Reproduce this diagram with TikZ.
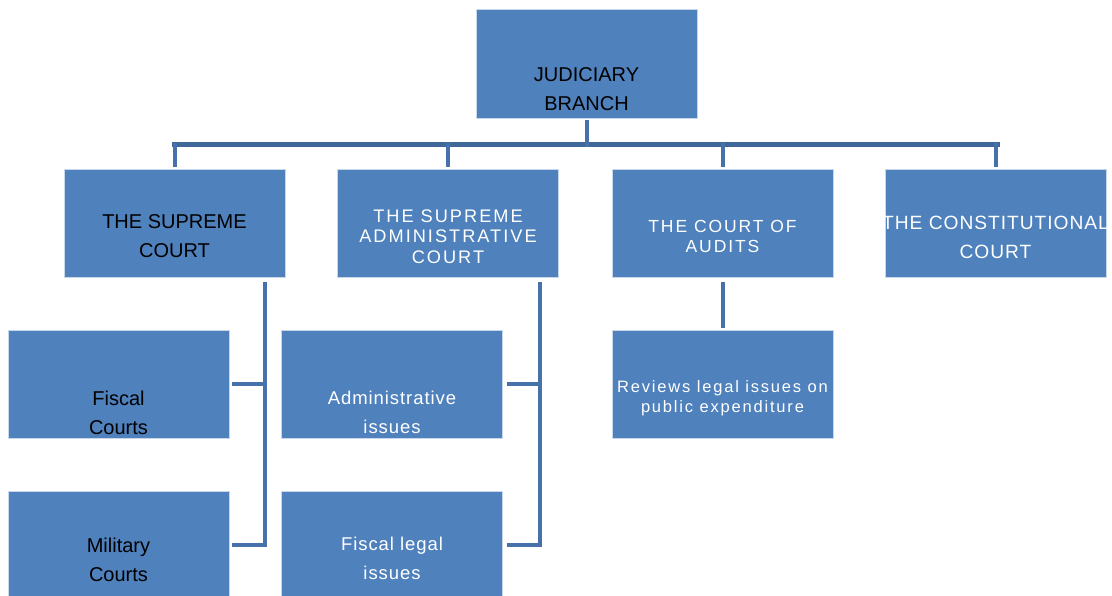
\documentclass[tikz,border=0pt]{standalone}
\usepackage{fontspec}
\setmainfont{Liberation Sans}
\newfontfamily\jbWide[LetterSpace=5]{Liberation Sans}
\newfontfamily\jbWider[LetterSpace=11]{Liberation Sans}
\definecolor{jbFill}{HTML}{4F81BD}
\definecolor{jbEdge}{HTML}{C9D7EA}
\definecolor{jbBus}{HTML}{3F6797}
\definecolor{jbLink}{HTML}{4771AA}
\tikzset{jbBox/.style={draw=jbEdge,line width=0.8pt,fill=jbFill,rectangle,
   minimum width=221pt,minimum height=108pt,inner sep=0pt},
 jbDark/.style={font=\fontsize{20}{29}\selectfont,text=black,align=center,inner sep=0pt},
 jbLight/.style={font=\jbWide\fontsize{18.5}{29}\selectfont,text=white,align=center,inner sep=0pt},
 jbSmall/.style={font=\jbWider\fontsize{#1}{20.5}\selectfont,text=white,align=center,inner sep=0pt},
 jbSmall/.default=16.5,
 jbBusLine/.style={draw=jbBus,line width=5pt,line cap=rect,line join=miter},
 jbLinkLine/.style={draw=jbLink,line width=4pt,line cap=rect,line join=miter}}

\begin{document}
\begin{tikzpicture}[x=1pt,y=-1pt]
\clip (0,0) rectangle (1112,596);
% boxes
\node[jbBox,minimum height=109pt] (root) at (586.5,63.5) {};
\node[jbBox] (sc) at (174.5,223) {};
\node[jbBox] (sac) at (448,223) {};
\node[jbBox] (ca) at (722.5,223) {};
\node[jbBox] (cc) at (995.5,223) {};
\node[jbBox] (fc) at (118.5,384) {};
\node[jbBox] (ai) at (392,384) {};
\node[jbBox] (rv) at (722.5,384) {};
\node[jbBox] (mc) at (118.5,545) {};
\node[jbBox] (fl) at (392,545) {};
% texts
\node[jbDark] (rootT) at ([yshift=-26pt]root.center) {JUDICIARY\\BRANCH};
\node[jbDark] (scT) at ([yshift=-13.5pt]sc.center) {THE SUPREME\\COURT};
\node[jbSmall=18.2] (sacT) at ([yshift=-13.5pt]sac.center) {THE SUPREME\\ADMINISTRATIVE\\COURT};
\node[jbSmall=17.5] (caT) at ([yshift=-13.5pt]ca.center) {THE COURT OF\\AUDITS};
\node[jbLight,font=\jbWide\fontsize{19.2}{29}\selectfont] (ccT) at ([yshift=-14pt]cc.center) {THE CONSTITUTIONAL\\COURT};
\node[jbLight] (aiT) at ([yshift=-28.5pt]ai.center) {Administrative\\issues};
\node[jbDark] (fcT) at ([yshift=-28.5pt]fc.center) {Fiscal\\Courts};
\node[jbSmall] (rvT) at ([yshift=-14pt]rv.center) {Reviews legal issues on\\public expenditure};
\node[jbDark] (mcT) at ([yshift=-14.5pt]mc.center) {Military\\Courts};
\node[jbLight] (flT) at ([yshift=-13.5pt]fl.center) {Fiscal legal\\issues};
% connectors
\coordinate (busL) at (174.5,145);
\coordinate (busR) at (997,145);
\draw[jbBusLine] (busL) -- (busR);
\draw[jbLinkLine] ([yshift=-4pt]root.south) -- (root.south |- busL);
\foreach \n in {sc,sac,ca,cc}{
\draw[jbLinkLine] (\n.north |- busL) -- ([yshift=4pt]\n.north);}
\coordinate (scTop) at (265,284);
\coordinate (sacTop) at (540,284);
\draw[jbLinkLine] (scTop) -- (scTop |- mc) -- ([xshift=5pt]mc.east);
\draw[jbLinkLine] (scTop |- fc) -- ([xshift=5pt]fc.east);
\draw[jbLinkLine] (sacTop) -- (sacTop |- fl) -- ([xshift=6pt]fl.east);
\draw[jbLinkLine] (sacTop |- ai) -- ([xshift=6pt]ai.east);
\draw[jbLinkLine] ([yshift=-7pt]ca.south) -- ([yshift=4pt]rv.north);
\end{tikzpicture}
\end{document}
